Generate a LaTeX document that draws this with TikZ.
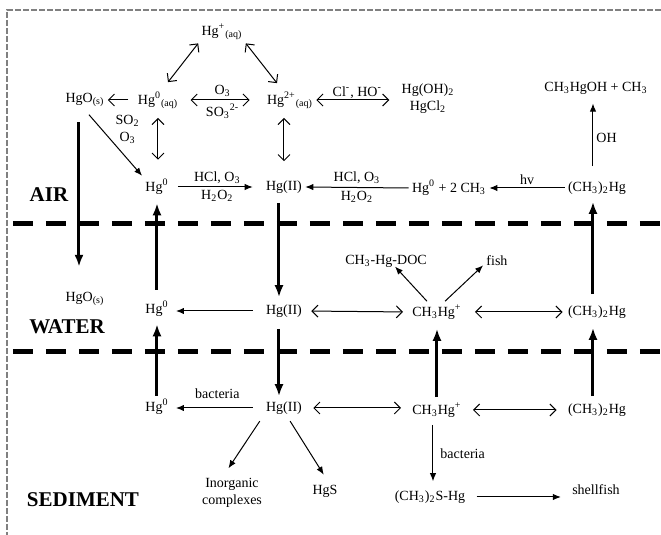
\documentclass[tikz,border=0pt]{standalone}
\usepackage{fontspec}
\setmainfont{Liberation Serif}
\usepackage{tikz}
\usetikzlibrary{arrows.meta, positioning}
\tikzstyle{chem} = [inner sep=1.5pt, font=\fontsize{7}{8.5}\selectfont]
\tikzstyle{layer} = [inner sep=1pt, font=\fontsize{10.5}{12}\selectfont\bfseries]
\tikzstyle{lbl} = [inner sep=1.5pt, font=\fontsize{7}{8.5}\selectfont]
\tikzstyle{flux} = [line width=1.5pt, -{Latex[length=6pt,width=4.5pt]}]
\tikzstyle{react} = [line width=0.5pt, -{Latex[length=4pt,width=3.2pt]}]
\tikzstyle{oneway} = [line width=0.5pt, -{Straight Barb[length=3pt,width=6pt]}]
\tikzstyle{equil} = [line width=0.5pt, {Straight Barb[length=3pt,width=6pt]}-{Straight Barb[length=3pt,width=6pt]}]
\tikzstyle{boundary} = [line width=2.5pt, dash pattern=on 10pt off 6.5pt]

\begin{document}
\begin{tikzpicture}[x=0.5pt, y=-0.5pt]
    \useasboundingbox (0,0) rectangle (661,535);
    % frame and compartments
    \draw[gray, line width=0.6pt, dash pattern=on 3pt off 1pt] (661,10) -- (7,10) -- (7,535);
    \draw[boundary] (13,224) -- (661,224);
    \draw[boundary] (13,352) -- (661,352);
    \node[layer] (air) at (49,195) {AIR};
    \node[layer] (water) at (67,327) {WATER};
    \node[layer] (sediment) at (83,500) {SEDIMENT};

    % air
    \node[chem] (hgplus) at (222,32) {Hg\textsuperscript{+}\textsubscript{(aq)}};
    \node[chem] (hgaq) at (158,100) {Hg\textsuperscript{0}\textsubscript{(aq)}};
    \node[chem] (hgoair) at (85,100) {HgO\textsubscript{(s)}};
    \node[chem] (hgtwo) at (290,100) {Hg\textsuperscript{2+}\textsubscript{(aq)}};
    \node[chem, align=center] (hgsalts) at (428,99) {Hg(OH)\textsubscript{2}\\HgCl\textsubscript{2}};
    \node[chem] (mehgoh) at (596,88) {CH\textsubscript{3}HgOH + CH\textsubscript{3}};
    \node[chem] (hg0air) at (157,187) {Hg\textsuperscript{0}};
    \node[chem] (hgiiair) at (284,187) {Hg(II)};
    \node[chem] (hgch3) at (449,188) {Hg\textsuperscript{0} + 2 CH\textsubscript{3}};
    \node[chem] (dmhgair) at (597,188) {(CH\textsubscript{3})\textsubscript{2}Hg};

    \draw[equil] (hgplus.south west) -- ([xshift=5pt, yshift=3pt]hgaq.north);
    \draw[equil] (hgplus.south east) -- ([xshift=-6.5pt, yshift=2.5pt]hgtwo.north);
    \draw[oneway, shorten <=3pt] (hgaq.west) -- (hgoair.east);
    \draw[equil, shorten <=4.5pt, shorten >=7pt] (hgaq.east) -- (hgtwo.west)
        node[lbl, midway, above] {O\textsubscript{3}}
        node[lbl, midway, below] {SO\textsubscript{3}\textsuperscript{2-}};
    \draw[equil, shorten >=4.5pt] (hgtwo.east) -- (hgtwo.east -| hgsalts.west)
        node[lbl, midway, above, inner sep=0.5pt] {Cl\textsuperscript{-}, HO\textsuperscript{-}};
    \draw[equil, shorten <=3pt, shorten >=8pt] (hgaq.south) -- (hgaq.south |- hg0air.north);
    \draw[equil, shorten <=3pt, shorten >=8pt] (hgtwo.south -| hgiiair.north) -- (hgiiair.north);
    \draw[react, shorten <=3pt] (hgoair.south) -- (hg0air.north west)
        node[lbl, pos=0.3, right=5pt, align=center] {SO\textsubscript{2}\\O\textsubscript{3}};
    \draw[react, shorten <=3pt, shorten >=5pt] (hg0air.east) -- (hgiiair.west)
        node[lbl, midway, above] {HCl, O\textsubscript{3}}
        node[lbl, midway, below] {H\textsubscript{2}O\textsubscript{2}};
    \draw[react] (hgch3.west) -- (hgiiair.east)
        node[lbl, midway, above] {HCl, O\textsubscript{3}}
        node[lbl, midway, below] {H\textsubscript{2}O\textsubscript{2}};
    \draw[react] (dmhgair.west) -- (hgch3.east)
        node[lbl, midway, above] {hv};
    \draw[react, shorten <=6pt, shorten >=3pt] ([xshift=-2pt]dmhgair.north) -- ([xshift=-2pt]dmhgair.north |- mehgoh.south)
        node[lbl, midway, right] {OH};

    % water
    \node[chem] (hgowater) at (85,299) {HgO\textsubscript{(s)}};
    \node[chem] (hg0water) at (157,309) {Hg\textsuperscript{0}};
    \node[chem] (hgiiwater) at (284,311) {Hg(II)};
    \node[chem] (mehgwater) at (437,312) {CH\textsubscript{3}Hg\textsuperscript{+}};
    \node[chem] (dmhgwater) at (597,312) {(CH\textsubscript{3})\textsubscript{2}Hg};
    \node[chem] (doc) at (386,261) {CH\textsubscript{3}-Hg-DOC};
    \node[chem] (fish) at (497,261) {fish};

    \draw[flux, shorten <=6pt, shorten >=11pt] ([xshift=-3pt]hgoair.south) -- ([xshift=-3pt]hgowater.north);
    \draw[flux, shorten <=4pt, shorten >=2.5pt] (hg0water.north) -- (hg0air.south);
    \draw[flux, shorten <=3pt, shorten >=2pt] ([xshift=-2.5pt]hgiiair.south) -- ([xshift=-2.5pt]hgiiwater.north);
    \draw[flux, shorten <=4pt, shorten >=2pt] ([xshift=-2pt]dmhgwater.north) -- ([xshift=-2pt]dmhgair.south);
    \draw[react, shorten <=5pt, shorten >=2pt] (hgiiwater.west) -- (hgiiwater.west -| hg0water.east);
    \draw[equil, shorten <=3pt, shorten >=3pt] (hgiiwater.east) -- (mehgwater.west);
    \draw[equil, shorten <=5pt, shorten >=1pt] (mehgwater.east) -- (dmhgwater.west);
    \draw[react] ([xshift=-5pt]mehgwater.north) -- ([xshift=4.5pt, yshift=2pt]doc.south);
    \draw[react] ([xshift=4pt]mehgwater.north) -- ([yshift=2pt]fish.south west);

    % sediment
    \node[chem] (hg0sed) at (157,407) {Hg\textsuperscript{0}};
    \node[chem] (hgiised) at (284,408) {Hg(II)};
    \node[chem] (mehgsed) at (437,410) {CH\textsubscript{3}Hg\textsuperscript{+}};
    \node[chem] (dmhgsed) at (597,410) {(CH\textsubscript{3})\textsubscript{2}Hg};
    \node[chem, align=center] (inorg) at (232,493) {Inorganic\\complexes};
    \node[chem] (hgs) at (325,491) {HgS};
    \node[chem] (dmshg) at (430,497) {(CH\textsubscript{3})\textsubscript{2}S-Hg};
    \node[chem] (shellfish) at (596,490) {shellfish};

    \draw[flux, shorten >=2pt] (hg0sed.north) -- (hg0water.south);
    \draw[flux, shorten <=4pt, shorten >=1pt] ([xshift=-2.5pt]hgiiwater.south) -- ([xshift=-2.5pt]hgiised.north);
    \draw[flux, shorten <=1pt, shorten >=3pt] (mehgsed.north) -- (mehgwater.south);
    \draw[flux, shorten <=2pt, shorten >=3pt] ([xshift=-2pt]dmhgsed.north) -- ([xshift=-2pt]dmhgwater.south);
    \draw[react, shorten <=5pt, shorten >=2pt] (hgiised.west) -- (hgiised.west -| hg0sed.east)
        node[lbl, midway, above=3pt] {bacteria};
    \draw[equil, shorten <=4pt, shorten >=4pt] (hgiised.east) -- (hgiised.east -| mehgsed.west);
    \draw[equil, shorten <=4pt, shorten >=4pt] (mehgsed.east) -- (dmhgsed.west);
    \draw[react, shorten <=2pt, shorten >=3pt] ([xshift=-2pt]mehgsed.south) -- ([xshift=-2pt]mehgsed.south |- dmshg.north)
        node[lbl, midway, right=2pt] {bacteria};
    \draw[react, shorten <=4pt, shorten >=4pt] (dmshg.east) -- (dmshg.east -| shellfish.west);
    \draw[react, shorten <=2pt, shorten >=4pt] ([xshift=-11pt]hgiised.south) -- ([xshift=-4pt]inorg.north);
    \draw[react, shorten <=2pt, shorten >=4pt] ([xshift=2pt]hgiised.south) -- ([xshift=1.5pt]hgs.north);
\end{tikzpicture}
\end{document}
